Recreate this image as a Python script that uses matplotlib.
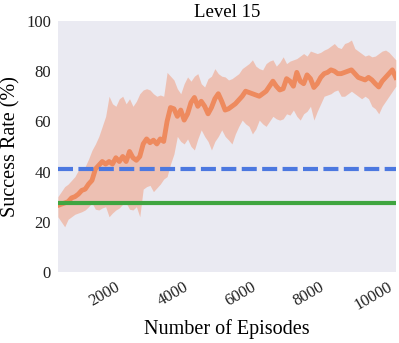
import numpy as np
import matplotlib
matplotlib.use("Agg")
import matplotlib.pyplot as plt

episodes = list(range(100, 10001, 100))

mean_rate = [26.5, 27, 27.5, 28, 29.5, 30, 31, 32.5, 33, 35,
             36.5, 41, 42.5, 44, 43, 44, 43, 45.5, 44, 46,
             44, 48, 45.5, 44.5, 46, 51, 53, 51.5, 52.5, 51,
             53, 52, 60, 65.5, 65, 62, 64.5, 60.5, 63, 67.5,
             69.5, 66, 68, 66, 63, 65.5, 69, 71, 68, 64.5,
             65, 66, 67, 68.5, 70, 72, 71.5, 71, 70.5, 70,
             71, 72, 74, 76, 74, 72.5, 73, 77, 76, 74,
             79.5, 76, 75, 78.5, 77, 73.5, 75, 77.5, 79, 79.5,
             80.5, 80, 79, 79, 79.5, 80, 80.5, 79, 77.5, 77,
             76.5, 77.5, 76.5, 75, 73.7, 76, 77.5, 79, 80.5, 77.5]

upper_rate = [30, 32, 34, 35, 36.5, 38, 40.5, 41, 42, 45,
              48.5, 51, 54, 58, 62, 70, 67, 66, 69, 70,
              67, 69, 66, 68, 71, 72.5, 73, 72.5, 71, 70,
              70.5, 70, 79.5, 78, 76.5, 73, 71, 75, 77.7, 76,
              78, 79, 75, 73.7, 77, 78, 81, 79, 78, 77.7,
              76.5, 77, 78, 79, 81, 82, 83, 84.5, 82, 81,
              80.5, 83, 84, 84.5, 82, 83.5, 85.7, 83, 84, 84.5,
              85, 86, 87, 86, 88, 87.5, 87, 87.5, 88.4, 89,
              90, 91, 89.5, 89, 91, 91.5, 92.4, 89, 88, 87,
              86, 86.5, 85.7, 86, 87, 88, 88.4, 87.5, 86, 84.5]

lower_rate = [22, 20, 18, 21, 22, 23, 23.5, 24, 24.7, 26,
              27.5, 25, 24.7, 25.5, 26, 22, 23.5, 24.7, 25.5, 27,
              27.5, 25, 24.7, 26, 22, 33, 34, 34.5, 32, 33.5,
              35, 37, 38, 43, 47, 54, 52, 51, 53, 50,
              48.6, 53, 56.6, 54, 52, 48.6, 52, 54, 56.6, 54,
              52.6, 51, 55, 58, 60.5, 59, 58, 55, 57, 60.5,
              59, 58, 60, 62, 61, 60.5, 61, 63, 62.5, 64.5,
              62, 60.5, 63, 64, 66, 60.5, 64, 67, 70, 70.5,
              71, 72, 72.5, 70, 70, 71, 72, 71, 70, 69,
              70, 69, 66, 65, 63, 66, 68, 70, 72, 74]

baseline_blue = 41
baseline_green = 27.5

xticks = [2000, 4000, 6000, 8000, 10000]
yticks = [0, 20, 40, 60, 80, 100]

plt.rcParams['font.family'] = ['Liberation Serif', 'DejaVu Serif']

fig = plt.figure(figsize=(3.99, 3.43), dpi=100)
ax = fig.add_axes([0.145, 0.207, 0.847, 0.732])
ax.set_facecolor('#EAEAF2')
for s in ax.spines.values():
    s.set_visible(False)

ax.fill_between(episodes, lower_rate, upper_rate, color='#F0A58A', alpha=0.6, linewidth=0)
ax.plot(episodes, mean_rate, color='#EE8A5E', linewidth=3.5)
ax.axhline(baseline_blue, color='#4C78E0', linewidth=3, linestyle=(0, (3.6, 1.3)))
ax.axhline(baseline_green, color='#3FA540', linewidth=3)

ax.set_xlim(100, 10000)
ax.set_ylim(0, 100)
ax.set_xticks(xticks)
ax.set_xticklabels([str(t) for t in xticks], rotation=30, ha='right')
ax.set_yticks(yticks)
ax.tick_params(length=0, labelsize=12, colors='#222222', pad=5)
ax.set_title('Level 15', fontsize=13.5, pad=3)
ax.set_xlabel('Number of Episodes', fontsize=14.5)
ax.set_ylabel('Success Rate (%)', fontsize=14.5)

fig.savefig('out.png', dpi=100)
